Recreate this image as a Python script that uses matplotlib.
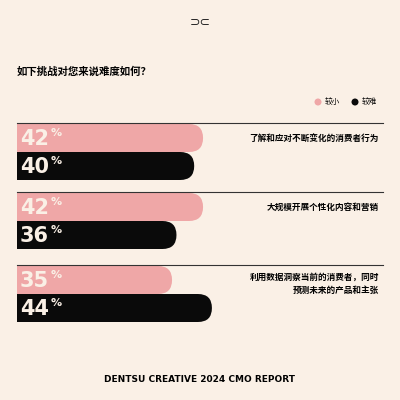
import matplotlib.pyplot as plt
from matplotlib.patches import FancyBboxPatch, Rectangle, Circle

plt.rcParams['font.family'] = ['Noto Sans CJK SC', 'DejaVu Sans']

# ─── DATA ─────────────────────────────────────────────
categories = ["了解和应对不断变化的消费者行为",
              "大规模开展个性化内容和营销",
              "利用数据洞察当前的消费者，同时\n预测未来的产品和主张"]
easier = [42, 42, 35]   # 较小
harder = [40, 36, 44]   # 较难

BG = "#FAF0E6"
PINK = "#EFA7A7"
BLACK = "#0A0A0A"
X0, SCALE, H = 17, 4.43, 28
group_top = [124, 193, 266]

fig = plt.figure(figsize=(4, 4), dpi=100, facecolor=BG)
ax = fig.add_axes([0, 0, 1, 1])
ax.set_xlim(0, 400)
ax.set_ylim(400, 0)
ax.axis("off")


def bar(y, val, color):
    x1 = X0 + val * SCALE
    r = H / 2
    ax.add_patch(FancyBboxPatch((X0, y), x1 - X0, H,
                                boxstyle=f"round,pad=0,rounding_size={r}",
                                fc=color, ec="none"))
    ax.add_patch(Rectangle((X0, y), r * 2, H, fc=color, ec="none"))
    ax.text(20, y + H / 2 + 1, f"{val}", color=BG, fontsize=15, fontweight="bold",
            va="center", ha="left", family="DejaVu Sans")
    ax.text(51, y + H / 2 - 5, "%", color=BG, fontsize=8, fontweight="bold",
            va="center", ha="left", family="DejaVu Sans")


for i, top in enumerate(group_top):
    ax.plot([X0, 383], [top - 1, top - 1], color="#333333", lw=0.8)
    bar(top, easier[i], PINK)
    bar(top + H, harder[i], BLACK)
    ax.text(379, top + 14 if "\n" not in categories[i] else top + 18,
            categories[i], ha="right", va="center", fontsize=6.2,
            fontweight="bold", linespacing=1.6)

# title, legend, logo, footer
ax.text(17, 72, "如下挑战对您来说难度如何？", fontsize=7.5, fontweight="bold",
        va="center", ha="left")
ax.add_patch(Circle((318, 102), 3.5, fc=PINK, ec="none"))
ax.text(325, 102, "较小", fontsize=5.5, va="center", ha="left")
ax.add_patch(Circle((355, 102), 3.5, fc=BLACK, ec="none"))
ax.text(362, 102, "较难", fontsize=5.5, va="center", ha="left")
ax.text(200, 22, "⊃⊂", fontsize=9, ha="center", va="center",
        family="DejaVu Sans", color="#222222")
ax.text(200, 379, "DENTSU CREATIVE 2024 CMO REPORT", fontsize=6.5,
        fontweight="bold", ha="center", va="center", family="DejaVu Sans")

fig.savefig("out.png", dpi=100, facecolor=BG)
